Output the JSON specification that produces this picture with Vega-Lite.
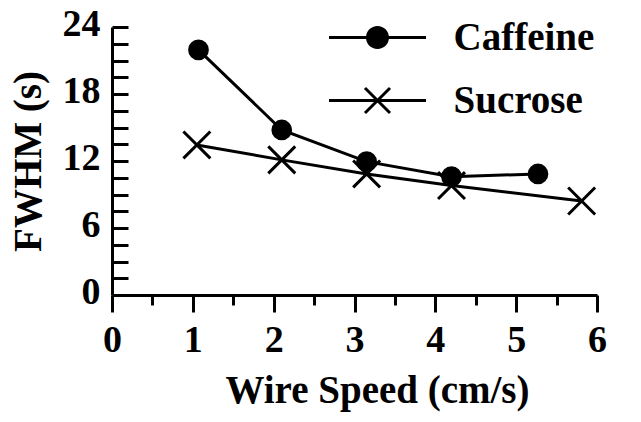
{
  "$schema": "https://vega.github.io/schema/vega-lite/v6.json",
  "width": 485,
  "height": 268,
  "autosize": "none",
  "padding": {"left": 112, "top": 27, "right": 44, "bottom": 127},
  "background": "white",
  "config": {"view": {"stroke": null}},
  "data": {
    "values": [
      {"speed": 1.07, "fwhm": 21.95, "series": "Caffeine"},
      {"speed": 2.1, "fwhm": 14.78, "series": "Caffeine"},
      {"speed": 3.15, "fwhm": 11.94, "series": "Caffeine"},
      {"speed": 4.2, "fwhm": 10.6, "series": "Caffeine"},
      {"speed": 5.27, "fwhm": 10.84, "series": "Caffeine"},
      {"speed": 1.05, "fwhm": 13.44, "series": "Sucrose"},
      {"speed": 2.1, "fwhm": 12.1, "series": "Sucrose"},
      {"speed": 3.15, "fwhm": 10.84, "series": "Sucrose"},
      {"speed": 4.2, "fwhm": 9.8, "series": "Sucrose"},
      {"speed": 5.81, "fwhm": 8.42, "series": "Sucrose"}
    ]
  },
  "encoding": {
    "x": {
      "field": "speed", "type": "quantitative",
      "scale": {"domain": [0, 6], "nice": false, "zero": false},
      "axis": {
        "title": "Wire Speed (cm/s)",
        "values": [0, 0.5, 1, 1.5, 2, 2.5, 3, 3.5, 4, 4.5, 5, 5.5, 6],
        "format": ".0f",
        "labelExpr": "datum.value % 1 === 0 ? datum.label : ''",
        "grid": false,
        "domainColor": "black", "domainWidth": 3,
        "tickColor": "black", "tickWidth": 3,
        "tickSize": {"condition": {"test": "datum.value % 1 === 0", "value": 17}, "value": 10},
        "labelFont": "Liberation Serif", "labelFontSize": 38, "labelFontWeight": "bold", "labelColor": "black",
        "labelPadding": 9, "labelFlush": false, "labelOverlap": false,
        "titleFont": "Liberation Serif", "titleFontSize": 39, "titleFontWeight": "bold", "titleColor": "black",
        "titleBaseline": "alphabetic", "titleX": 265, "titleY": 107, "titleAlign": "center"
      }
    },
    "y": {
      "field": "fwhm", "type": "quantitative",
      "scale": {"domain": [0, 24], "nice": false},
      "axis": {
        "title": "FWHM (s)",
        "values": [0, 1.5, 3, 4.5, 6, 7.5, 9, 10.5, 12, 13.5, 15, 16.5, 18, 19.5, 21, 22.5, 24],
        "labelExpr": "datum.value % 6 === 0 ? datum.label : ''",
        "grid": false,
        "domainColor": "black", "domainWidth": 3,
        "tickColor": "black", "tickWidth": 3, "tickSize": -16,
        "labelFont": "Liberation Serif", "labelFontSize": 38, "labelFontWeight": "bold", "labelColor": "black",
        "labelPadding": 28, "labelOffset": -3, "labelFlush": false, "labelOverlap": false,
        "titleFont": "Liberation Serif", "titleFontSize": 39, "titleFontWeight": "bold", "titleColor": "black",
        "titleBaseline": "alphabetic", "titleX": -72, "titleY": 134, "titleAngle": -90, "titleAlign": "center"
      }
    }
  },
  "layer": [
    {
      "mark": {"type": "line", "color": "black", "strokeWidth": 3},
      "encoding": {"detail": {"field": "series"}}
    },
    {
      "mark": {"type": "point", "filled": true, "fill": "black", "stroke": "black", "strokeWidth": 3, "size": 314, "opacity": 1},
      "encoding": {
        "shape": {
          "field": "series", "type": "nominal",
          "scale": {"domain": ["Caffeine", "Sucrose"], "range": ["circle", "M-1.52,-1.52L1.52,1.52M-1.52,1.52L1.52,-1.52"]},
          "legend": null
        }
      }
    },
    {
      "mark": {"type": "point", "filled": true, "fill": "black", "strokeWidth": 0, "size": 400, "opacity": 0},
      "encoding": {
        "shape": {
          "field": "series", "type": "nominal",
          "scale": {"domain": ["Caffeine", "Sucrose"], "range": [
            "M-4.85,-0.15H4.85V0.15H-4.85ZM1.15,0A1.15,1.15,0,1,1,-1.15,0A1.15,1.15,0,1,1,1.15,0Z",
            "M-4.85,-0.15V0.15H4.85V-0.15ZM-1.356,-1.144L1.144,1.356L1.356,1.144L-1.144,-1.356ZM-1.144,1.356L1.356,-1.144L1.144,-1.356L-1.356,1.144Z"
          ]},
          "legend": {
            "title": null,
            "orient": "none",
            "legendX": 246,
            "legendY": -9,
            "padding": 0,
            "labelFont": "Liberation Serif", "labelFontSize": 39, "labelFontWeight": "bold", "labelColor": "black",
            "labelOffset": 56.5,
            "rowPadding": 23,
            "symbolSize": 400,
            "symbolOpacity": 1,
            "symbolStrokeWidth": 0,
            "symbolFillColor": "black"
          }
        }
      }
    }
  ],
  "resolve": {"scale": {"shape": "independent"}}
}
